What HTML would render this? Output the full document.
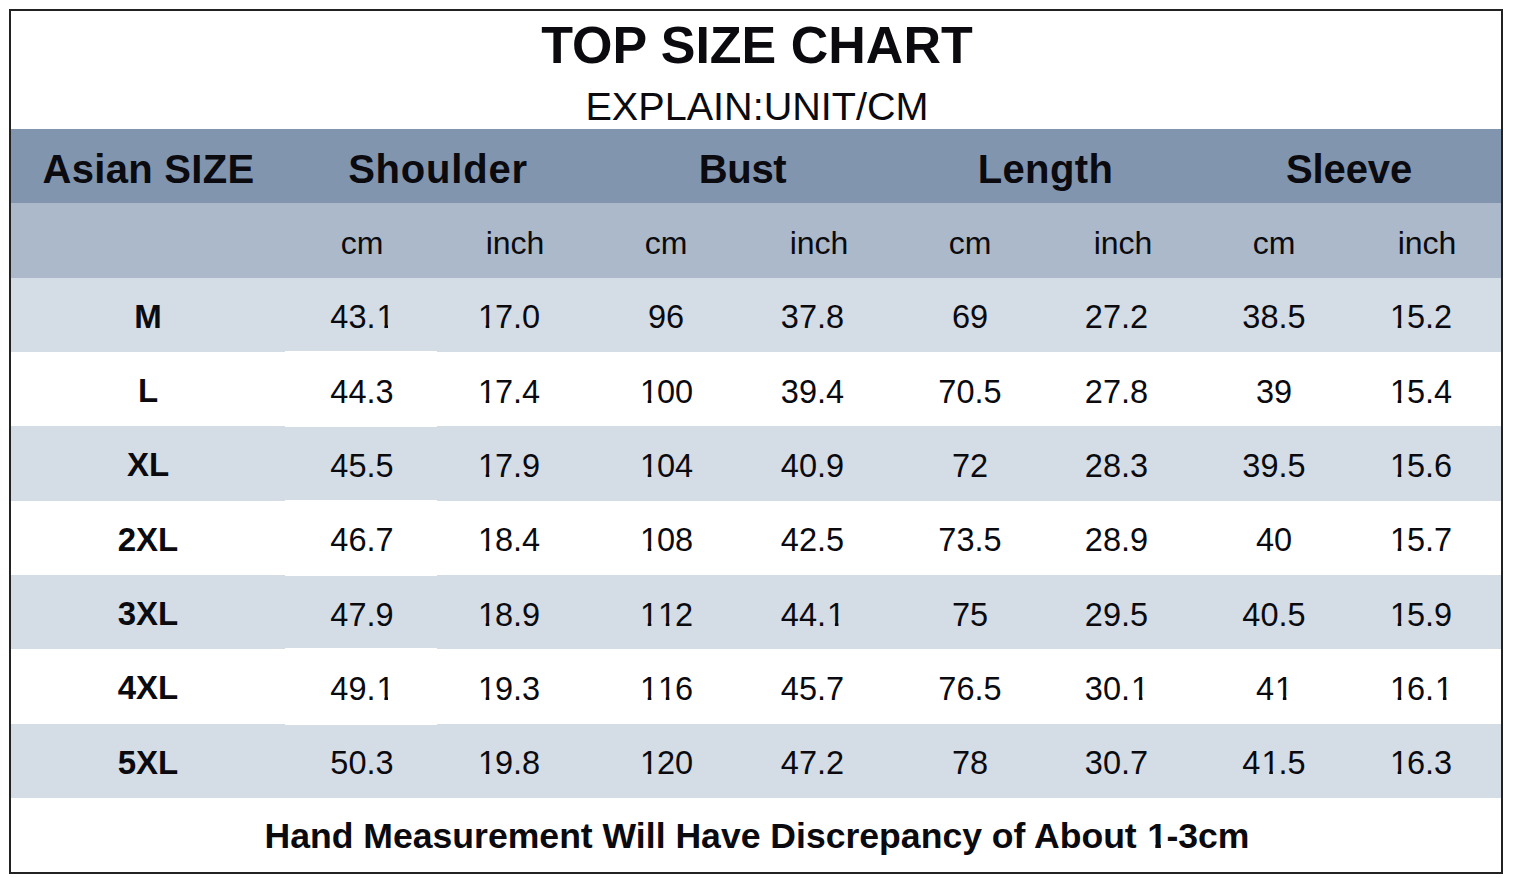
<!DOCTYPE html>
<html><head><meta charset="utf-8"><title>Top Size Chart</title>
<style>
html,body{margin:0;padding:0;background:#fff;}
body{width:1514px;height:878px;position:relative;overflow:hidden;font-family:"Liberation Sans",sans-serif;color:#0a0a0f;}
.frame{position:absolute;left:9px;top:9px;width:1494px;height:865px;box-sizing:border-box;border:2px solid #222;}
.band{position:absolute;left:11px;width:1490px;}
.t{position:absolute;text-align:center;white-space:nowrap;line-height:1;}
.h{letter-spacing:0.55px;}
.b{font-weight:bold;}
.o{display:inline-block;position:relative;left:0.033em;clip-path:polygon(0 0,100% 0,100% 0.715em,0.35em 0.715em,0.35em 100%,0.24em 100%,0.24em 0.715em,0 0.715em);}
.b .o{left:0.02em;clip-path:polygon(0 0,100% 0,100% 0.69em,0.38em 0.69em,0.38em 100%,0.225em 100%,0.225em 0.69em,0 0.69em);}
</style></head><body>

<div class="band" style="top:129px;height:74px;background:#8295AF"></div>
<div class="band" style="top:203px;height:74.5px;background:#ABB9CA"></div>
<div class="band" style="top:277.5px;height:74.5px;background:#D4DCE6"></div>
<div class="band" style="top:426px;height:74.5px;background:#D4DCE6"></div>
<div class="band" style="top:575px;height:74px;background:#D4DCE6"></div>
<div class="band" style="top:723.5px;height:74.5px;background:#D4DCE6"></div>
<div style="position:absolute;left:285px;width:152px;top:351px;height:76px;background:#fff"></div>
<div style="position:absolute;left:285px;width:152px;top:499.5px;height:76.5px;background:#fff"></div>
<div style="position:absolute;left:285px;width:152px;top:648px;height:76.5px;background:#fff"></div>
<div class="frame"></div>
<div class="t b" style="left:357.0px;top:18.8px;width:800px;font-size:52px">TOP SIZE CHART</div>
<div class="t" style="left:357.0px;top:86.5px;width:800px;font-size:39.6px">EXPLAIN:UNIT/CM</div>
<div class="t b" style="left:-1.5px;top:149px;width:300px;font-size:40px;letter-spacing:0.3px">Asian SIZE</div>
<div class="t b" style="left:288px;top:149px;width:300px;font-size:40px;letter-spacing:0.8px">Shoulder</div>
<div class="t b" style="left:592.5px;top:149px;width:300px;font-size:40px;letter-spacing:-0.3px">Bust</div>
<div class="t b" style="left:895.5px;top:149px;width:300px;font-size:40px;letter-spacing:0.4px">Length</div>
<div class="t b" style="left:1199px;top:149px;width:300px;font-size:40px;letter-spacing:-0.1px">Sleeve</div>
<div class="t" style="left:286.0px;top:227px;width:152px;font-size:32px">cm</div>
<div class="t" style="left:439.0px;top:227px;width:152px;font-size:32px">inch</div>
<div class="t" style="left:590.0px;top:227px;width:152px;font-size:32px">cm</div>
<div class="t" style="left:743.0px;top:227px;width:152px;font-size:32px">inch</div>
<div class="t" style="left:894.0px;top:227px;width:152px;font-size:32px">cm</div>
<div class="t" style="left:1047.0px;top:227px;width:152px;font-size:32px">inch</div>
<div class="t" style="left:1198.0px;top:227px;width:152px;font-size:32px">cm</div>
<div class="t" style="left:1351.0px;top:227px;width:152px;font-size:32px">inch</div>
<div class="t b" style="left:11.0px;top:299.9px;width:274px;font-size:33px">M</div>
<div class="t" style="left:286.0px;top:301.0px;width:152px;font-size:32.5px">43.<span class="o">1</span></div>
<div class="t" style="left:432.5px;top:301.0px;width:152px;font-size:32.5px"><span class="o">1</span>7.0</div>
<div class="t" style="left:590.0px;top:301.0px;width:152px;font-size:32.5px">96</div>
<div class="t" style="left:736.5px;top:301.0px;width:152px;font-size:32.5px">37.8</div>
<div class="t" style="left:894.0px;top:301.0px;width:152px;font-size:32.5px">69</div>
<div class="t" style="left:1040.5px;top:301.0px;width:152px;font-size:32.5px">27.2</div>
<div class="t" style="left:1198.0px;top:301.0px;width:152px;font-size:32.5px">38.5</div>
<div class="t" style="left:1344.5px;top:301.0px;width:152px;font-size:32.5px"><span class="o">1</span>5.2</div>
<div class="t b" style="left:11.0px;top:374.4px;width:274px;font-size:33px">L</div>
<div class="t" style="left:286.0px;top:375.5px;width:152px;font-size:32.5px">44.3</div>
<div class="t" style="left:432.5px;top:375.5px;width:152px;font-size:32.5px"><span class="o">1</span>7.4</div>
<div class="t" style="left:590.0px;top:375.5px;width:152px;font-size:32.5px"><span class="o">1</span>00</div>
<div class="t" style="left:736.5px;top:375.5px;width:152px;font-size:32.5px">39.4</div>
<div class="t" style="left:894.0px;top:375.5px;width:152px;font-size:32.5px">70.5</div>
<div class="t" style="left:1040.5px;top:375.5px;width:152px;font-size:32.5px">27.8</div>
<div class="t" style="left:1198.0px;top:375.5px;width:152px;font-size:32.5px">39</div>
<div class="t" style="left:1344.5px;top:375.5px;width:152px;font-size:32.5px"><span class="o">1</span>5.4</div>
<div class="t b" style="left:11.0px;top:448.4px;width:274px;font-size:33px">XL</div>
<div class="t" style="left:286.0px;top:449.5px;width:152px;font-size:32.5px">45.5</div>
<div class="t" style="left:432.5px;top:449.5px;width:152px;font-size:32.5px"><span class="o">1</span>7.9</div>
<div class="t" style="left:590.0px;top:449.5px;width:152px;font-size:32.5px"><span class="o">1</span>04</div>
<div class="t" style="left:736.5px;top:449.5px;width:152px;font-size:32.5px">40.9</div>
<div class="t" style="left:894.0px;top:449.5px;width:152px;font-size:32.5px">72</div>
<div class="t" style="left:1040.5px;top:449.5px;width:152px;font-size:32.5px">28.3</div>
<div class="t" style="left:1198.0px;top:449.5px;width:152px;font-size:32.5px">39.5</div>
<div class="t" style="left:1344.5px;top:449.5px;width:152px;font-size:32.5px"><span class="o">1</span>5.6</div>
<div class="t b" style="left:11.0px;top:522.9px;width:274px;font-size:33px">2XL</div>
<div class="t" style="left:286.0px;top:524.0px;width:152px;font-size:32.5px">46.7</div>
<div class="t" style="left:432.5px;top:524.0px;width:152px;font-size:32.5px"><span class="o">1</span>8.4</div>
<div class="t" style="left:590.0px;top:524.0px;width:152px;font-size:32.5px"><span class="o">1</span>08</div>
<div class="t" style="left:736.5px;top:524.0px;width:152px;font-size:32.5px">42.5</div>
<div class="t" style="left:894.0px;top:524.0px;width:152px;font-size:32.5px">73.5</div>
<div class="t" style="left:1040.5px;top:524.0px;width:152px;font-size:32.5px">28.9</div>
<div class="t" style="left:1198.0px;top:524.0px;width:152px;font-size:32.5px">40</div>
<div class="t" style="left:1344.5px;top:524.0px;width:152px;font-size:32.5px"><span class="o">1</span>5.7</div>
<div class="t b" style="left:11.0px;top:597.4px;width:274px;font-size:33px">3XL</div>
<div class="t" style="left:286.0px;top:598.5px;width:152px;font-size:32.5px">47.9</div>
<div class="t" style="left:432.5px;top:598.5px;width:152px;font-size:32.5px"><span class="o">1</span>8.9</div>
<div class="t" style="left:590.0px;top:598.5px;width:152px;font-size:32.5px"><span class="o">1</span><span class="o">1</span>2</div>
<div class="t" style="left:736.5px;top:598.5px;width:152px;font-size:32.5px">44.<span class="o">1</span></div>
<div class="t" style="left:894.0px;top:598.5px;width:152px;font-size:32.5px">75</div>
<div class="t" style="left:1040.5px;top:598.5px;width:152px;font-size:32.5px">29.5</div>
<div class="t" style="left:1198.0px;top:598.5px;width:152px;font-size:32.5px">40.5</div>
<div class="t" style="left:1344.5px;top:598.5px;width:152px;font-size:32.5px"><span class="o">1</span>5.9</div>
<div class="t b" style="left:11.0px;top:671.4px;width:274px;font-size:33px">4XL</div>
<div class="t" style="left:286.0px;top:672.5px;width:152px;font-size:32.5px">49.<span class="o">1</span></div>
<div class="t" style="left:432.5px;top:672.5px;width:152px;font-size:32.5px"><span class="o">1</span>9.3</div>
<div class="t" style="left:590.0px;top:672.5px;width:152px;font-size:32.5px"><span class="o">1</span><span class="o">1</span>6</div>
<div class="t" style="left:736.5px;top:672.5px;width:152px;font-size:32.5px">45.7</div>
<div class="t" style="left:894.0px;top:672.5px;width:152px;font-size:32.5px">76.5</div>
<div class="t" style="left:1040.5px;top:672.5px;width:152px;font-size:32.5px">30.<span class="o">1</span></div>
<div class="t" style="left:1198.0px;top:672.5px;width:152px;font-size:32.5px">4<span class="o">1</span></div>
<div class="t" style="left:1344.5px;top:672.5px;width:152px;font-size:32.5px"><span class="o">1</span>6.<span class="o">1</span></div>
<div class="t b" style="left:11.0px;top:745.9px;width:274px;font-size:33px">5XL</div>
<div class="t" style="left:286.0px;top:747.0px;width:152px;font-size:32.5px">50.3</div>
<div class="t" style="left:432.5px;top:747.0px;width:152px;font-size:32.5px"><span class="o">1</span>9.8</div>
<div class="t" style="left:590.0px;top:747.0px;width:152px;font-size:32.5px"><span class="o">1</span>20</div>
<div class="t" style="left:736.5px;top:747.0px;width:152px;font-size:32.5px">47.2</div>
<div class="t" style="left:894.0px;top:747.0px;width:152px;font-size:32.5px">78</div>
<div class="t" style="left:1040.5px;top:747.0px;width:152px;font-size:32.5px">30.7</div>
<div class="t" style="left:1198.0px;top:747.0px;width:152px;font-size:32.5px">4<span class="o">1</span>.5</div>
<div class="t" style="left:1344.5px;top:747.0px;width:152px;font-size:32.5px"><span class="o">1</span>6.3</div>
<div class="t b" style="left:157.0px;top:818.5px;width:1200px;font-size:35.6px">Hand Measurement Will Have Discrepancy of About <span class="o">1</span>-3cm</div>
</body></html>
